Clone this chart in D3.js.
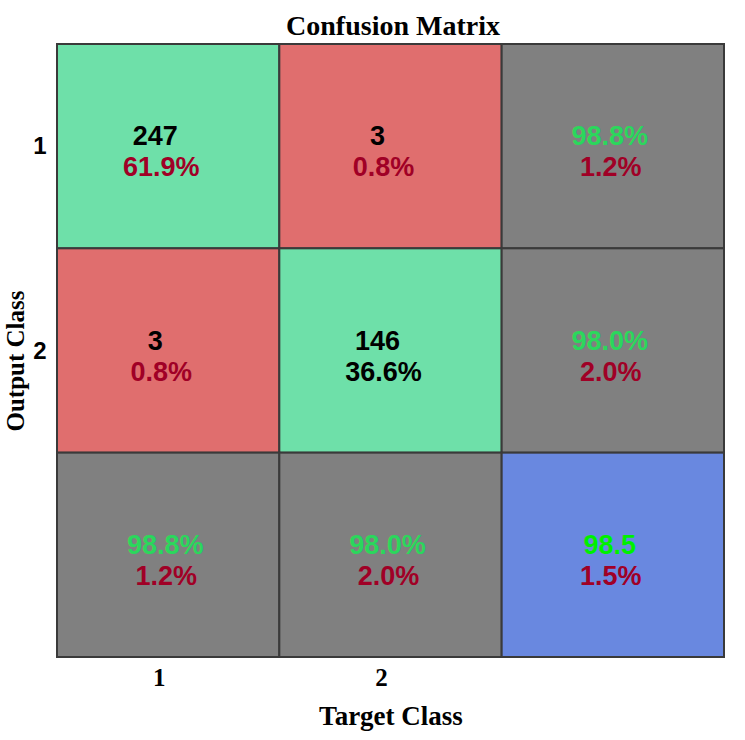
<!DOCTYPE html>
<html>
<head>
<meta charset="utf-8">
<script src="https://cdn.jsdelivr.net/npm/d3@7"></script>
<style>
  body { margin: 0; background: #fff; }
  svg { display: block; }
</style>
</head>
<body>
<div id="chart"></div>
<script>
// classes on each axis
var targetClasses = ["1", "2"];
var outputClasses = ["1", "2"];

// counts[row = output][col = target]
var counts = [[247, 3], [3, 146]];
var cellPercents = [["61.9%", "0.8%"], ["0.8%", "36.6%"]];

// row summaries (right column) and column summaries (bottom row)
var rowCorrect = ["98.8%", "98.0%"];
var rowWrong = ["1.2%", "2.0%"];
var colCorrect = ["98.8%", "98.0%"];
var colWrong = ["1.2%", "2.0%"];
var overallCorrect = "98.5";
var overallWrong = "1.5%";

var width = 745, height = 740;
var margin = { top: 44, right: 21, bottom: 83, left: 57 };

var svg = d3.select("#chart").append("svg")
  .attr("width", width)
  .attr("height", height);

var n = targetClasses.length + 1;
var x = d3.scaleBand().domain(d3.range(n)).range([margin.left, width - margin.right]);
var y = d3.scaleBand().domain(d3.range(n)).range([margin.top, height - margin.bottom]);

var green = "#6ee0a9", red = "#e06e6e", grey = "#808080", blue = "#6988e0";
var darkRed = "#a00026", okGreen = "#2bd75c", brightGreen = "#00f000";

// build the cell list
var cells = [];
outputClasses.forEach(function (r, i) {
  targetClasses.forEach(function (c, j) {
    cells.push({
      row: i, col: j,
      fill: i === j ? green : red,
      line1: String(counts[i][j]), c1: "#000",
      line2: cellPercents[i][j], c2: (i === 1 && j === 1) ? "#000" : darkRed,
      shift: true
    });
  });
  cells.push({ row: i, col: n - 1, fill: grey,
    line1: rowCorrect[i], c1: okGreen, line2: rowWrong[i], c2: darkRed });
});
targetClasses.forEach(function (c, j) {
  cells.push({ row: n - 1, col: j, fill: grey,
    line1: colCorrect[j], c1: okGreen, line2: colWrong[j], c2: darkRed });
});
cells.push({ row: n - 1, col: n - 1, fill: blue,
  line1: overallCorrect, c1: brightGreen, line2: overallWrong, c2: darkRed });

var g = svg.append("g");

var cell = g.selectAll("g.cell")
  .data(cells)
  .enter()
  .append("g")
  .attr("class", "cell");

cell.append("rect")
  .attr("x", d => x(d.col))
  .attr("y", d => y(d.row))
  .attr("width", x.bandwidth())
  .attr("height", y.bandwidth())
  .attr("fill", d => d.fill)
  .attr("stroke", "#3a3a3a")
  .attr("stroke-width", 2);

cell.append("text")
  .attr("x", d => x(d.col) + x.bandwidth() / 2 + (d.shift ? -13 : -3))
  .attr("y", d => y(d.row) + y.bandwidth() / 2 - 1)
  .attr("text-anchor", "middle")
  .style("font-family", "'Liberation Sans', Arial, sans-serif")
  .style("font-weight", "bold")
  .style("font-size", "27px")
  .attr("fill", d => d.c1)
  .text(d => d.line1);

cell.append("text")
  .attr("x", d => x(d.col) + x.bandwidth() / 2 + (d.shift ? -7 : -2))
  .attr("y", d => y(d.row) + y.bandwidth() / 2 + 30)
  .attr("text-anchor", "middle")
  .style("font-family", "'Liberation Sans', Arial, sans-serif")
  .style("font-weight", "bold")
  .style("font-size", "27px")
  .attr("fill", d => d.c2)
  .text(d => d.line2);

// left tick labels (output class)
svg.append("g")
  .selectAll("text")
  .data(outputClasses)
  .enter()
  .append("text")
  .attr("x", 40)
  .attr("y", (d, i) => y(i) + y.bandwidth() / 2 + 8)
  .attr("text-anchor", "middle")
  .style("font-family", "'Liberation Sans', Arial, sans-serif")
  .style("font-weight", "bold")
  .style("font-size", "24px")
  .text(d => d);

// bottom tick labels (target class)
svg.append("g")
  .selectAll("text")
  .data(targetClasses)
  .enter()
  .append("text")
  .attr("x", (d, i) => x(i) + x.bandwidth() / 2 - 9)
  .attr("y", height - margin.bottom + 29)
  .attr("text-anchor", "middle")
  .style("font-family", "'Liberation Serif', 'Times New Roman', serif")
  .style("font-weight", "bold")
  .style("font-size", "25px")
  .text(d => d);

// titles
var serif = "'Liberation Serif', 'Times New Roman', serif";

svg.append("text")
  .attr("x", 393)
  .attr("y", 35)
  .attr("text-anchor", "middle")
  .style("font-family", serif)
  .style("font-weight", "bold")
  .style("font-size", "28px")
  .text("Confusion Matrix");

svg.append("text")
  .attr("x", 391)
  .attr("y", 725)
  .attr("text-anchor", "middle")
  .style("font-family", serif)
  .style("font-weight", "bold")
  .style("font-size", "27px")
  .text("Target Class");

svg.append("text")
  .attr("transform", "translate(24," + 361 + ") rotate(-90)")
  .attr("text-anchor", "middle")
  .style("font-family", serif)
  .style("font-weight", "bold")
  .style("font-size", "25px")
  .text("Output Class");
</script>
</body>
</html>
